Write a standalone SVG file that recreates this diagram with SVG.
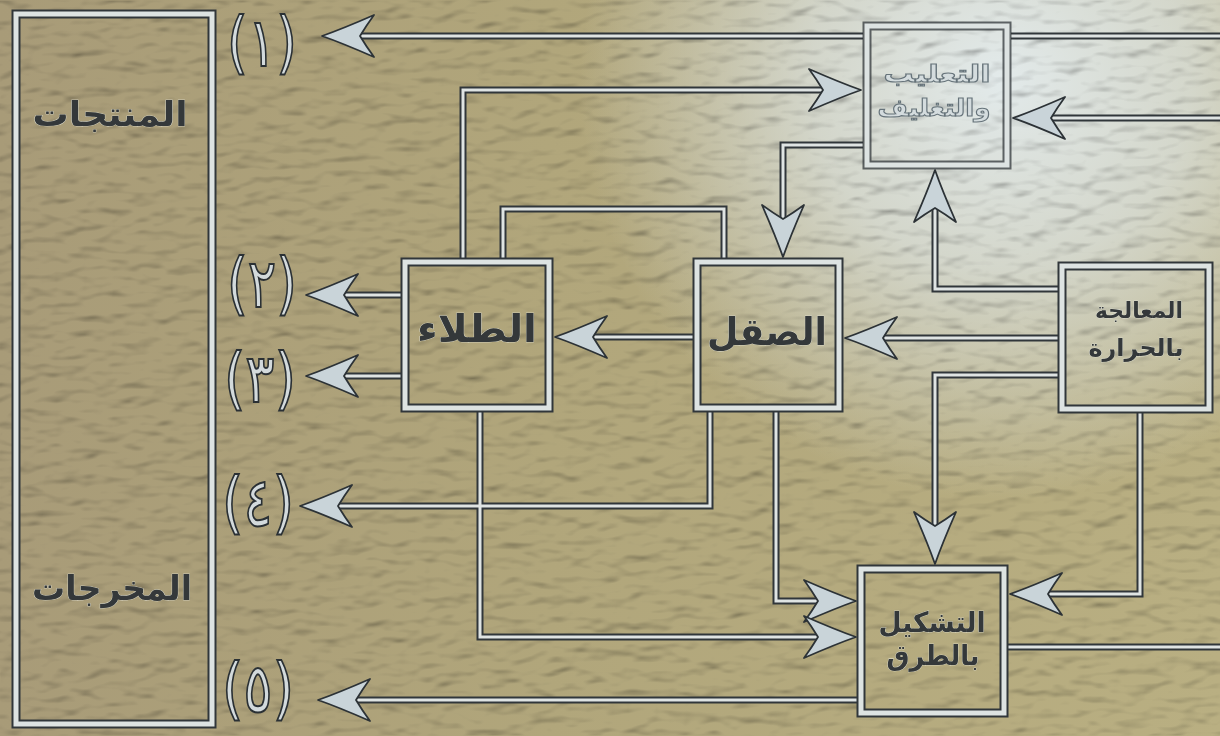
<svg xmlns="http://www.w3.org/2000/svg" width="1220" height="736" viewBox="0 0 1220 736">
  <style>
    .lnD { fill: none; stroke: #30363a; stroke-width: 7; stroke-linejoin: miter; }
    .lnL { fill: none; stroke: #dfe4e3; stroke-width: 3; stroke-linejoin: miter; }
    .arr { marker-end: url(#arrow); }
    .boxD { fill: none; stroke: #30363a; stroke-width: 9; }
    .boxL { fill: none; stroke: #dde3e2; stroke-width: 5; }
    .lbl { font-family: "DejaVu Sans", "Noto Sans", sans-serif; font-weight: bold; fill: #34383a; stroke: #e4e6dc; stroke-width: 0.6; paint-order: stroke; text-anchor: middle; }
    .lblGlare { font-family: "DejaVu Sans", "Noto Sans", sans-serif; font-weight: bold; fill: #d4dcde; stroke: #66737a; stroke-width: 1.1; text-anchor: middle; }
    .num { font-family: "DejaVu Sans", "Noto Sans", sans-serif; font-size: 68px; fill: #d3dadc; stroke: #2a3034; stroke-width: 2; text-anchor: middle; }
  </style>
  <defs>
    <marker id="arrow" markerUnits="userSpaceOnUse" viewBox="-60 -30 66 60" markerWidth="66" markerHeight="60" refX="-38" refY="0" orient="auto" overflow="visible">
      <path d="M0,0 Q-20,-7 -52,-21 Q-44,-10 -38,0 Q-44,10 -52,21 Q-20,7 0,0 Z" fill="#c9d4d9" stroke="#2c3236" stroke-width="1.8" stroke-linejoin="round"/>
    </marker>
    <linearGradient id="bgLin" x1="0" y1="0" x2="1" y2="0">
      <stop offset="0" stop-color="#a89b78"/>
      <stop offset="0.45" stop-color="#b1a67b"/>
      <stop offset="1" stop-color="#b9af82"/>
    </linearGradient>
    <radialGradient id="glare" gradientUnits="userSpaceOnUse" cx="1000" cy="80" r="420">
      <stop offset="0" stop-color="#e4ecee" stop-opacity="0.97"/>
      <stop offset="0.45" stop-color="#dfe7e8" stop-opacity="0.72"/>
      <stop offset="1" stop-color="#dfe7e8" stop-opacity="0"/>
    </radialGradient>
    <filter id="tex" x="0" y="0" width="1220" height="736" filterUnits="userSpaceOnUse">
      <feTurbulence type="fractalNoise" baseFrequency="0.035 0.075" numOctaves="2" seed="7" result="n"/>
      <feDiffuseLighting in="n" surfaceScale="6" diffuseConstant="1.25" lighting-color="#ffffff">
        <feDistantLight azimuth="250" elevation="50"/>
      </feDiffuseLighting>
    </filter>
  </defs>

  <g id="background">
    <rect x="0" y="0" width="1220" height="736" fill="url(#bgLin)"/>
    <rect x="0" y="0" width="1220" height="736" fill="url(#glare)"/>
    <rect x="0" y="0" width="1220" height="736" fill="#fff" filter="url(#tex)" opacity="0.32" style="mix-blend-mode:multiply"/>
  </g>

  <g id="connectors">
    <g id="connectors-dark">
      <path class="lnD" d="M863,36 L360,36"/>
      <path class="lnD" d="M1220,36 L1011,36"/>
      <path class="lnD" d="M463,258 L463,90 L823,90"/>
      <path class="lnD" d="M1220,118 L1051,118"/>
      <path class="lnD" d="M863,145 L783,145 L783,219"/>
      <path class="lnD" d="M503,258 L503,209 L724,209 L724,258"/>
      <path class="lnD" d="M693,337 L593,337"/>
      <path class="lnD" d="M1058,338 L883,338"/>
      <path class="lnD" d="M401,295 L344,295"/>
      <path class="lnD" d="M401,376 L344,376"/>
      <path class="lnD" d="M710,412 L710,506 L338,506"/>
      <path class="lnD" d="M776,412 L776,601 L818,601"/>
      <path class="lnD" d="M480,412 L480,637 L818,637"/>
      <path class="lnD" d="M1140,413 L1140,594 L1048,594"/>
      <path class="lnD" d="M1058,375 L935,375 L935,526"/>
      <path class="lnD" d="M1058,289 L935,289 L935,208"/>
      <path class="lnD" d="M857,700 L356,700"/>
      <path class="lnD" d="M1008,647 L1220,647"/>
    </g>
    <g id="connectors-light">
      <path class="lnL arr" d="M863,36 L360,36"/>
      <path class="lnL" d="M1220,36 L1011,36"/>
      <path class="lnL arr" d="M463,258 L463,90 L823,90"/>
      <path class="lnL arr" d="M1220,118 L1051,118"/>
      <path class="lnL arr" d="M863,145 L783,145 L783,219"/>
      <path class="lnL" d="M503,258 L503,209 L724,209 L724,258"/>
      <path class="lnL arr" d="M693,337 L593,337"/>
      <path class="lnL arr" d="M1058,338 L883,338"/>
      <path class="lnL arr" d="M401,295 L344,295"/>
      <path class="lnL arr" d="M401,376 L344,376"/>
      <path class="lnL arr" d="M710,412 L710,506 L338,506"/>
      <path class="lnL arr" d="M776,412 L776,601 L818,601"/>
      <path class="lnL arr" d="M480,412 L480,637 L818,637"/>
      <path class="lnL arr" d="M1140,413 L1140,594 L1048,594"/>
      <path class="lnL arr" d="M1058,375 L935,375 L935,526"/>
      <path class="lnL arr" d="M1058,289 L935,289 L935,208"/>
      <path class="lnL arr" d="M857,700 L356,700"/>
      <path class="lnL" d="M1008,647 L1220,647"/>
    </g>
  </g>

  <g id="node-outputs">
    <rect class="boxD" x="16" y="14" width="196" height="710"/>
    <rect class="boxL" x="16" y="14" width="196" height="710"/>
    <text class="lbl" x="110" y="126" font-size="34" textLength="155" lengthAdjust="spacingAndGlyphs">المنتجات</text>
    <text class="lbl" x="112" y="600" font-size="34" textLength="160" lengthAdjust="spacingAndGlyphs">المخرجات</text>
  </g>

  <g id="node-packaging">
    <rect class="boxD" x="867" y="26" width="140" height="139" opacity="0.75"/>
    <rect class="boxL" x="867" y="26" width="140" height="139"/>
    <text class="lblGlare" x="937" y="82" font-size="24" textLength="107" lengthAdjust="spacingAndGlyphs">التعليب</text>
    <text class="lblGlare" x="934" y="116" font-size="24" textLength="113" lengthAdjust="spacingAndGlyphs">والتغليف</text>
  </g>

  <g id="node-painting">
    <rect class="boxD" x="405" y="262" width="144" height="146"/>
    <rect class="boxL" x="405" y="262" width="144" height="146"/>
    <text class="lbl" x="477" y="342" font-size="38" textLength="120" lengthAdjust="spacingAndGlyphs">الطلاء</text>
  </g>

  <g id="node-polishing">
    <rect class="boxD" x="697" y="262" width="142" height="146"/>
    <rect class="boxL" x="697" y="262" width="142" height="146"/>
    <text class="lbl" x="767" y="345" font-size="38" textLength="120" lengthAdjust="spacingAndGlyphs">الصقل</text>
  </g>

  <g id="node-heat-treatment">
    <rect class="boxD" x="1062" y="266" width="147" height="143"/>
    <rect class="boxL" x="1062" y="266" width="147" height="143"/>
    <text class="lbl" x="1139" y="318" font-size="22" textLength="88" lengthAdjust="spacingAndGlyphs">المعالجة</text>
    <text class="lbl" x="1136" y="356" font-size="24" textLength="95" lengthAdjust="spacingAndGlyphs">بالحرارة</text>
  </g>

  <g id="node-forging">
    <rect class="boxD" x="861" y="569" width="143" height="144"/>
    <rect class="boxL" x="861" y="569" width="143" height="144"/>
    <text class="lbl" x="932" y="632" font-size="28" textLength="107" lengthAdjust="spacingAndGlyphs">التشكيل</text>
    <text class="lbl" x="933" y="665" font-size="28" textLength="93" lengthAdjust="spacingAndGlyphs">بالطرق</text>
  </g>

  <g id="node-out-1"><text class="num" x="262" y="66" textLength="70" lengthAdjust="spacingAndGlyphs">(١)</text></g>
  <g id="node-out-2"><text class="num" x="262" y="307" textLength="70" lengthAdjust="spacingAndGlyphs">(٢)</text></g>
  <g id="node-out-3"><text class="num" x="260" y="402" textLength="72" lengthAdjust="spacingAndGlyphs">(٣)</text></g>
  <g id="node-out-4"><text class="num" x="258" y="526" textLength="72" lengthAdjust="spacingAndGlyphs">(٤)</text></g>
  <g id="node-out-5"><text class="num" x="258" y="712" textLength="72" lengthAdjust="spacingAndGlyphs">(٥)</text></g>
</svg>
